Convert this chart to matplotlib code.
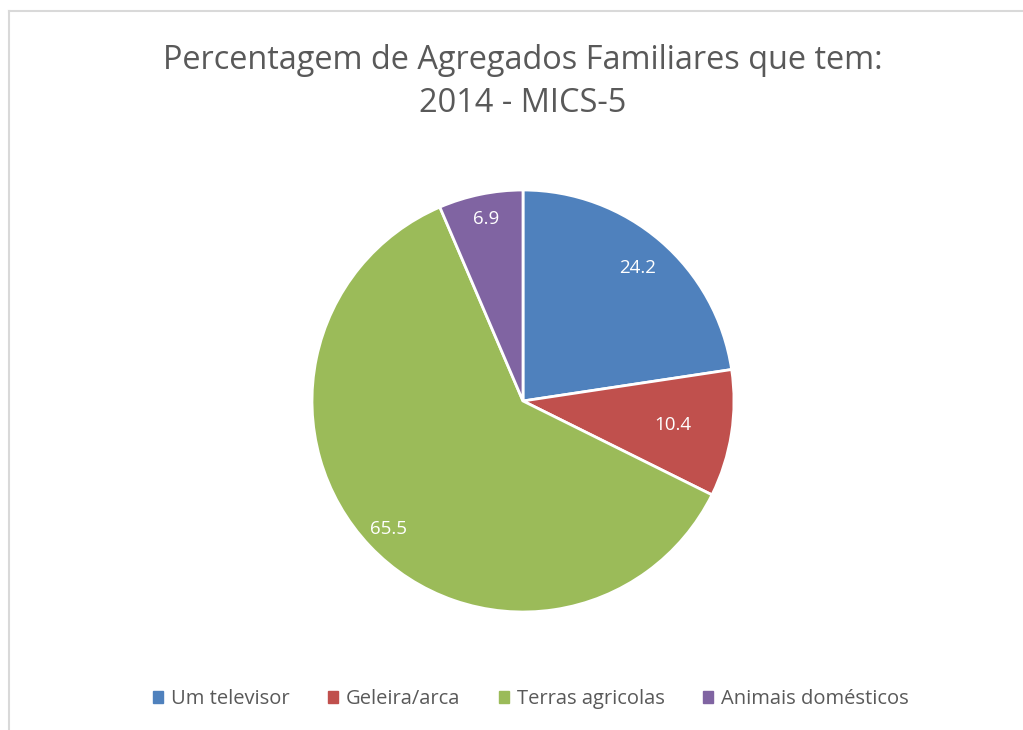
import numpy as np
import matplotlib
matplotlib.use("Agg")
import matplotlib.pyplot as plt
from matplotlib.lines import Line2D

# data
categories = ["Um televisor", "Geleira/arca", "Terras agricolas", "Animais domésticos"]
values = [24.2, 10.4, 65.5, 6.9]
colors = ["#4F81BD", "#C0504D", "#9BBB59", "#8064A2"]
label_radius = [0.83, 0.72, 0.88, 0.88]

plt.rcParams['font.family'] = ['Open Sans', 'DejaVu Sans']

fig = plt.figure(figsize=(10.23, 7.3), dpi=100)

# chart border (top and left visible)
fig.add_artist(Line2D([8.5 / 1023, 8.5 / 1023], [0, 1 - 11 / 730], color="#D9D9D9", lw=1.5))
fig.add_artist(Line2D([8.5 / 1023, 1], [1 - 11 / 730, 1 - 11 / 730], color="#D9D9D9", lw=1.5))

fig.text(523 / 1023, 1 - 82 / 730, "Percentagem de Agregados Familiares que tem:\n2014 - MICS-5",
         ha="center", va="center", fontsize=23.4, color="#595959", linespacing=1.38)

r_px = 211
ax = fig.add_axes([(523 - r_px) / 1023, 1 - (401 + r_px) / 730, 2 * r_px / 1023, 2 * r_px / 730])
wedges, texts = ax.pie(values, colors=colors, startangle=90, counterclock=False,
                       wedgeprops=dict(edgecolor="white", linewidth=2), radius=1)
ax.set_xlim(-1, 1)
ax.set_ylim(-1, 1)
ax.set_aspect("auto")

for w, v, r in zip(wedges, values, label_radius):
    ang = np.deg2rad((w.theta1 + w.theta2) / 2)
    ax.text(r * np.cos(ang), r * np.sin(ang), f"{v:.1f}", ha="center", va="center",
            color="white", fontsize=13.5)

handles = [plt.Rectangle((0, 0), 1, 1, color=c) for c in colors]
fig.legend(handles, categories, loc="center", bbox_to_anchor=(531 / 1023, 1 - 699 / 730),
           ncol=4, frameon=False, fontsize=14.5, handlelength=0.5, handleheight=0.5,
           handletextpad=0.4, columnspacing=1.9, labelcolor="#595959")

fig.savefig("out.png", dpi=100)
